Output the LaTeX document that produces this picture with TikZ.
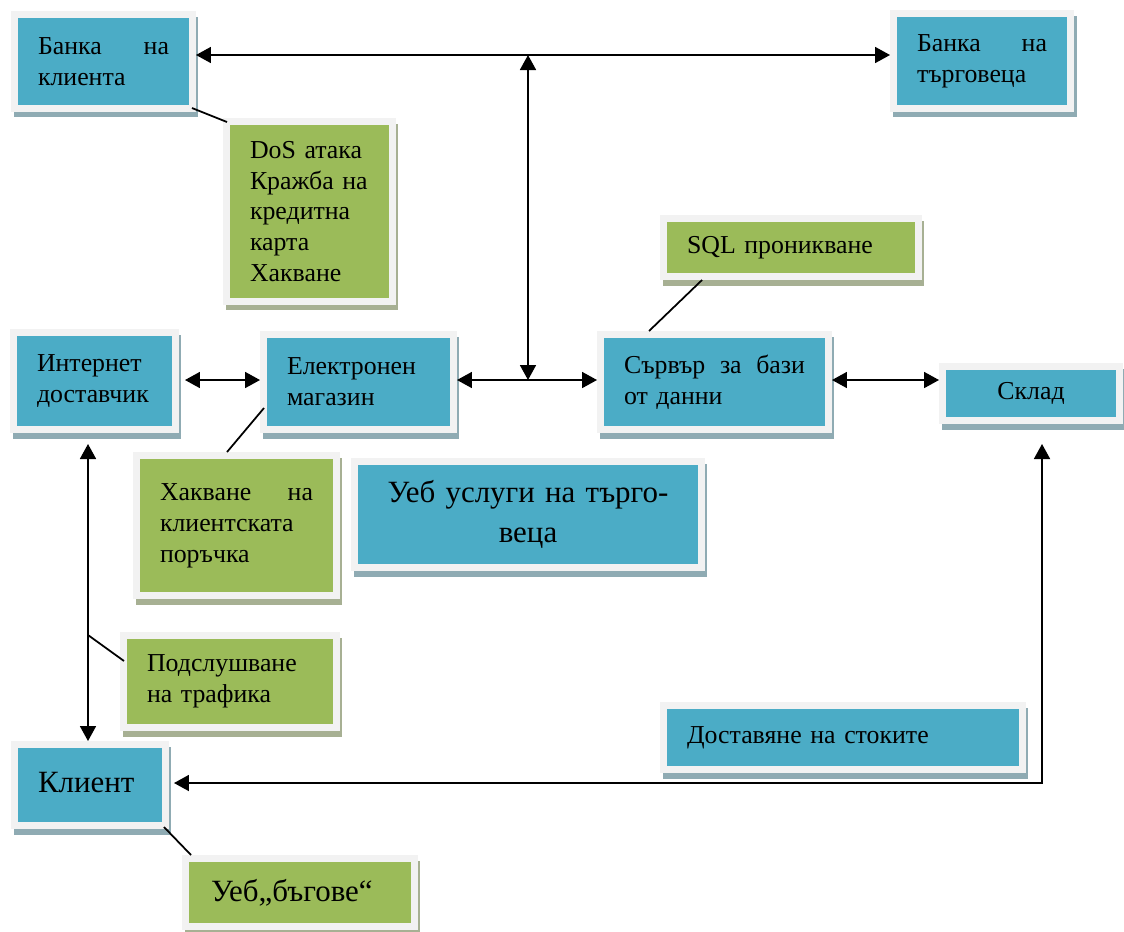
\documentclass[tikz,border=0pt]{standalone}
\usepackage{fontspec}
\setmainfont{Liberation Serif}
\usetikzlibrary{arrows.meta,calc}
\setlength{\parindent}{0pt}
\definecolor{boxblue}{HTML}{4BACC6}
\definecolor{boxgreen}{HTML}{9BBB59}
\definecolor{framegray}{HTML}{F2F2F2}
\definecolor{shadeblue}{HTML}{8FABB3}
\definecolor{shadegreen}{HTML}{A7B093}
\tikzset{
  card/.style={draw=framegray, line width=0.14cm, inner sep=0pt, align=left,
    font=\fontsize{14.7}{17.6}\selectfont,
    preaction={draw=#1, fill=#1, transform canvas={shift={(0.05cm,-0.11cm)}}}},
  bluecard/.style={card=shadeblue, fill=boxblue},
  greencard/.style={card=shadegreen, fill=boxgreen},
  bigtext/.style={font=\fontsize{17.6}{22.7}\selectfont},
  link/.style={line width=1pt},
}
\begin{document}
\begin{tikzpicture}[>={Triangle[length=0.3cm,width=0.32cm]}, x=0.02cm, y=-0.02cm]
\useasboundingbox (0,0) rectangle (1124,931);
% banks
\node[bluecard, minimum width=3.56cm, minimum height=1.88cm, text width=2.62cm] (bankc) at (103.5,61.5) {Банка\hfill на\\клиента};
\node[bluecard, minimum width=3.54cm, minimum height=1.90cm, text width=2.60cm] (bankm) at (982,61) {Банка\hfill на\\търговеца};
\node[greencard, minimum width=3.32cm, minimum height=3.60cm, text width=2.38cm] (dos) at (309.5,211.5) {DoS атака\\Кражба на\\кредитна\\карта\\Хакване};
\node[greencard, minimum width=5.10cm, minimum height=1.16cm, text width=4.16cm] (sql) at (791,247.5) {SQL проникване};
% middle row
\node[bluecard, minimum width=3.24cm, minimum height=1.94cm, text width=2.30cm] (isp) at (94.5,381) {Интернет\\доставчик};
\node[bluecard, minimum width=3.80cm, minimum height=1.90cm, text width=2.86cm] (shop) at (358.5,382) {Електронен\\магазин};
\node[bluecard, minimum width=4.56cm, minimum height=1.90cm, text width=3.62cm] (server) at (714.5,382) {Сървър\hfill за\hfill бази\\от данни};
\node[bluecard, minimum width=3.54cm, minimum height=1.08cm, align=center] (sklad) at (1031,393.5) {Склад};
% lower part
\node[greencard, minimum width=4.00cm, minimum height=2.80cm, text width=3.06cm] (hack) at (236.5,525.5) {Хакване\hfill на\\клиентската\\поръчка};
\node[bluecard, bigtext, minimum width=6.94cm, minimum height=2.12cm, text width=6.00cm, align=center] (websvc) at (528,514.5) {Уеб услуги на търго-\\веца};
\node[greencard, minimum width=4.26cm, minimum height=1.84cm, text width=3.32cm] (tapbox) at (230,681.5) {Подслушване\\на трафика};
\node[bluecard, minimum width=7.18cm, minimum height=1.28cm, text width=6.24cm] (deliv) at (843,737.5) {Доставяне на стоките};
\node[bluecard, bigtext, minimum width=3.02cm, minimum height=1.62cm, text width=2.08cm] (klient) at (90,785) {\raisebox{0.12cm}{Клиент}};
\node[greencard, bigtext, minimum width=4.58cm, minimum height=1.36cm, text width=3.56cm] (bugs) at (300,892.5) {Уеб„бъгове“};

\coordinate (top) at (528,55);
\coordinate (hub) at (528,380);
\coordinate (tap) at (88,635);
\coordinate (corner) at (1042,783);

% arrows
\draw[link,<->] (bankc.east |- top) -- (bankm.west |- top);
\draw[link,<->] (top) -- (hub);
\draw[link,<->, shorten <=0.12cm] (isp.east |- hub) -- (shop.west |- hub);
\draw[link,<->] (shop.east |- hub) -- (server.west |- hub);
\draw[link,<->] (server.east |- hub) -- (sklad.west |- hub);
\draw[link,<->, shorten <=0.22cm] (isp.south -| tap) -- (klient.north -| tap);
\draw[link,<->, shorten <=0.4cm, shorten >=0.1cm] (sklad.south -| corner) -- (corner) -- (klient.east |- corner);

% threat lines
\draw[link] ($(bankc.south east)+(-4,-4)$) -- ($(dos.north west)+(4,4)$);
\draw[link] ($(sql.south west)+(42,0)$) -- ($(server.north west)+(52,0)$);
\draw[link] ($(shop.south west)+(4,-25)$) -- ($(hack.north west)+(94,0)$);
\draw[link] (tap) -- ($(tapbox.north west)+(4,29)$);
\draw[link] ($(klient.south east)+(-5,-2)$) -- ($(bugs.north west)+(9,0)$);
\end{tikzpicture}
\end{document}
